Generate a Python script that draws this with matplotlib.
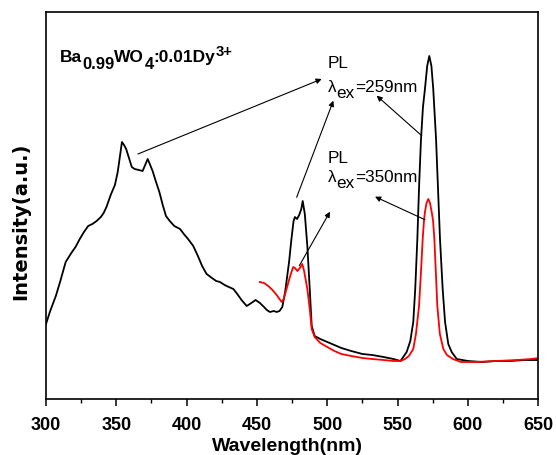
import matplotlib
matplotlib.use("Agg")
import matplotlib.pyplot as plt
from matplotlib.ticker import MultipleLocator

plt.rcParams['font.family'] = ['Liberation Sans', 'DejaVu Sans']

# black curve: excitation (300-470 nm) + emission under 259 nm excitation
wl_black = [300, 303, 307, 310, 314, 318, 321, 324, 327, 330, 333, 336, 339, 341, 343,
            346, 349, 351, 352.5, 354, 355.5, 357, 359, 361, 363, 366, 368.7, 370.5, 372.3,
            373.5, 375.8, 378, 380.6, 383, 385.3, 388, 391.2, 395.3, 398, 401, 404.7, 408,
            411, 414.2, 418, 421, 423.7, 427, 430, 433.2, 436, 439, 442.7, 446, 449, 452.1,
            455, 457, 459.2, 462, 464, 466, 468, 470, 472.8, 474.5, 476, 477, 478.5, 480,
            481.5, 482.5, 484, 485.8, 487.5, 488.9, 491, 495, 500, 505, 510, 517, 525,
            532, 540, 547, 552, 556.4, 559, 561.1, 562.5, 564, 565.3, 566.6, 568, 569.4,
            571, 572.5, 574, 575.3, 576.3, 577.3, 578.7, 580.1, 582, 583.7, 586, 588.4,
            592, 600, 610, 620, 630, 640, 650]
int_black = [75, 88, 103, 117, 137, 146, 152, 160, 167, 173, 175, 178, 182, 186, 192,
             204, 214, 227, 242, 257, 254, 250, 241, 232, 230, 229, 228, 234, 240,
             236, 228, 218, 207, 194, 183, 178, 173, 170, 165, 160, 153, 143,
             133, 125, 121, 118, 117, 114, 112, 110, 105, 99, 93, 96, 99, 96,
             92, 89, 87, 88, 87, 88, 92, 107, 137, 160, 178, 182, 180, 184,
             190, 198, 185, 153, 110, 73, 63, 60, 57, 54, 51, 48, 45,
             44, 42, 40, 38, 47, 58, 77, 110, 160, 215, 260, 292, 310,
             333, 343, 333, 310, 285, 260, 210, 160, 110, 77, 55, 47,
             40, 38, 37, 38, 38, 39, 39]

# red curve: emission under 350 nm excitation
wl_red = [452, 455, 458, 461, 464, 466, 467.6, 469, 471, 473, 474.5, 475.8, 477, 478.7,
          480.5, 482.2, 483.5, 485.8, 487.5, 488.9, 491, 495, 500, 505, 510, 517, 525,
          532, 540, 547, 552, 555.2, 558, 561.1, 563, 565.2, 566.5, 567.8, 568.7, 569.4,
          570.5, 571.8, 573, 574.2, 575.2, 576.1, 577.2, 578.2, 580, 582.5, 585, 589.3,
          595, 605, 620, 635, 645, 650]
int_red = [117, 116, 113, 109, 104, 100, 97, 100, 110, 120, 127, 132, 131, 128,
           131, 135, 128, 110, 90, 70, 62, 56, 52, 48, 45, 43, 41,
           40, 39, 38, 38, 40, 43, 50, 65, 93, 125, 160, 178, 187,
           196, 200, 196, 187, 178, 160, 125, 93, 65, 50, 44, 40,
           37, 37, 38, 39, 40, 41]


def rich_text(ax, x, y, parts, size, weight='normal'):
    # parts: (text, baseline shift in points, size factor)
    prev = None
    prev_dy = 0
    for s, dy, k in parts:
        if prev is None:
            prev = ax.annotate(s, xy=(x, y), xycoords='data', xytext=(0, dy),
                               textcoords='offset points', fontsize=size * k,
                               fontweight=weight, va='baseline', ha='left')
        else:
            prev = ax.annotate(s, xy=(1, 0), xycoords=prev, xytext=(0, dy - prev_dy),
                               textcoords='offset points', fontsize=size * k,
                               fontweight=weight, va='bottom', ha='left')
        prev_dy = dy


fig = plt.figure(figsize=(5.56, 4.56), dpi=100)
ax = fig.add_axes([0.0827, 0.1228, 0.8855, 0.8487])

ax.plot(wl_black, int_black, color='black', lw=1.3)
ax.plot(wl_red, int_red, color='red', lw=1.3)

ax.set_xlim(300, 650)
ax.set_ylim(0, 387)
ax.xaxis.set_major_locator(MultipleLocator(50))
ax.xaxis.set_minor_locator(MultipleLocator(25))
ax.tick_params(axis='x', which='major', direction='out', length=5, width=1.1,
               labelsize=13, pad=7)
ax.tick_params(axis='x', which='minor', direction='out', length=3, width=1.0)
ax.set_yticks([])
for lab in ax.get_xticklabels():
    lab.set_fontweight('bold')
for s in ax.spines.values():
    s.set_linewidth(1.2)

fig.text(0.517, 1 - 451 / 456, 'Wavelength(nm)', fontsize=14, fontweight='bold',
         ha='center', va='baseline')
fig.text(20.5 / 556, 1 - 221 / 456, 'Intensity(a.u.)', fontsize=14, fontweight='bold',
         family='DejaVu Sans', rotation=90, ha='center', va='center')

rich_text(ax, 310, 338, [('Ba', 0, 1), ('0.99', -5, 0.95), ('WO', 0, 1),
                         ('4', -5, 0.95), (':0.01Dy', 0, 1), ('3+', 4, 0.85)],
          12.5, 'bold')
ax.text(500.5, 332, 'PL', fontsize=12.3)
rich_text(ax, 500.5, 308, [('λ', 0, 1), ('ex', -4.5, 1), ('=259nm', 0, 1)], 12.3)
ax.text(500.5, 237, 'PL', fontsize=12.3)
rich_text(ax, 500.5, 218, [('λ', 0, 1), ('ex', -4.5, 1), ('=350nm', 0, 1)], 12.3)

arrows = [((365.4, 245), (496.0, 320)),
          ((478.2, 201.7), (504.3, 298.3)),
          ((567.1, 263.3), (535.1, 303.3)),
          ((569.4, 179.3), (533.9, 202.3)),
          ((480.1, 133.3), (501.9, 187.3))]
for start, end in arrows:
    ax.annotate('', xy=end, xytext=start,
                arrowprops=dict(arrowstyle='-|>', color='black', lw=0.8,
                                mutation_scale=8, shrinkA=0, shrinkB=0))

fig.savefig('out.png', dpi=100)
